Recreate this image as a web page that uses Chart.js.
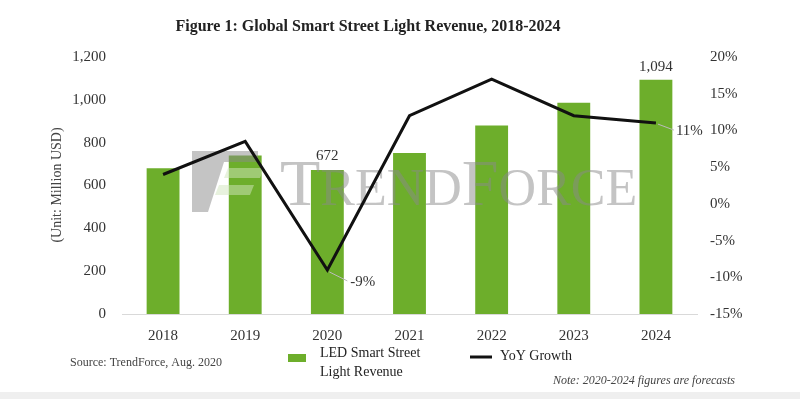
<!DOCTYPE html>
<html>
<head>
<meta charset="utf-8">
<script src="https://cdn.jsdelivr.net/npm/chart.js@4"></script>
<style>
  html, body { margin: 0; padding: 0; background: #fff; }
  #wrap { width: 800px; height: 399px; }
</style>
</head>
<body>
<div id="wrap"><canvas id="grafico" width="800" height="399"></canvas></div>
<script>
var anos = ['2018', '2019', '2020', '2021', '2022', '2023', '2024']
var receita = [680, 740, 672, 752, 880, 986, 1094]
var crescimento = [4, 8.5, -9, 12, 17, 12, 11]
var ticksReceita = [0, 200, 400, 600, 800, 1000, 1200]
var ticksCrescimento = [-15, -10, -5, 0, 5, 10, 15, 20]

var verde = '#6DAE2B'
var fonteSerif = '"Liberation Serif", "DejaVu Serif", serif'

// marca d'agua entre as barras e a linha
function marcaDagua(ctx) {
    ctx.save()
    ctx.globalAlpha = 0.5
    ctx.fillStyle = '#8a8a8a'
    ctx.beginPath()
    ctx.moveTo(192, 151); ctx.lineTo(258, 151); ctx.lineTo(258, 162)
    ctx.lineTo(224, 162); ctx.lineTo(208, 212); ctx.lineTo(192, 212)
    ctx.closePath(); ctx.fill()
    ctx.fillStyle = '#d2e6bd'
    ctx.beginPath()
    ctx.moveTo(228, 168); ctx.lineTo(264, 168); ctx.lineTo(260, 178)
    ctx.lineTo(224, 178); ctx.closePath(); ctx.fill()
    ctx.beginPath()
    ctx.moveTo(219, 185); ctx.lineTo(254, 185); ctx.lineTo(250, 195)
    ctx.lineTo(215, 195); ctx.closePath(); ctx.fill()
    ctx.fillStyle = '#8a8a8a'
    ctx.textBaseline = 'alphabetic'
    ctx.textAlign = 'left'
    var x = 280
    var partes = [['T', 66], ['REND', 52], ['F', 66], ['ORCE', 52]]
    partes.forEach(function (p) {
        ctx.font = p[1] + 'px ' + fonteSerif
        ctx.fillText(p[0], x, 205)
        x += ctx.measureText(p[0]).width
    })
    ctx.restore()
}

var extras = {
    id: 'extras',
    beforeDraw: function (chart) {
        var ctx = chart.ctx
        ctx.save()
        ctx.fillStyle = '#fff'
        ctx.fillRect(0, 0, chart.width, chart.height)
        ctx.fillStyle = '#efefef'
        ctx.fillRect(0, 392, chart.width, 7)
        ctx.restore()
    },
    afterDatasetDraw: function (chart, args) {
        if (args.index === 1) marcaDagua(chart.ctx)
    },
    afterDraw: function (chart) {
        var ctx = chart.ctx
        var pontos = chart.getDatasetMeta(0).data
        var barras = chart.getDatasetMeta(1).data
        ctx.save()
        ctx.fillStyle = '#222'
        ctx.textAlign = 'center'
        ctx.textBaseline = 'middle'
        ctx.font = 'bold 16px ' + fonteSerif
        ctx.fillText('Figure 1: Global Smart Street Light Revenue, 2018-2024', 368, 27)

        // titulo do eixo
        ctx.fillStyle = '#444'
        ctx.font = '14px ' + fonteSerif
        ctx.translate(57, 185)
        ctx.rotate(-Math.PI / 2)
        ctx.fillText('(Unit: Million USD)', 0, 0)
        ctx.setTransform(1, 0, 0, 1, 0, 0)

        // rotulos dos valores
        ctx.fillStyle = '#333'
        ctx.font = '15px ' + fonteSerif
        ctx.fillText('672', barras[2].x, barras[2].y - 14)
        ctx.fillText('1,094', barras[6].x, barras[6].y - 13)

        ctx.strokeStyle = '#bbb'
        ctx.lineWidth = 1
        ctx.beginPath()
        ctx.moveTo(pontos[2].x + 2, pontos[2].y + 2)
        ctx.lineTo(pontos[2].x + 20, pontos[2].y + 11)
        ctx.moveTo(pontos[6].x + 2, pontos[6].y + 1)
        ctx.lineTo(pontos[6].x + 18, pontos[6].y + 7)
        ctx.stroke()
        ctx.textAlign = 'left'
        ctx.fillText('-9%', pontos[2].x + 23, pontos[2].y + 12)
        ctx.fillText('11%', pontos[6].x + 20, pontos[6].y + 8)

        // legenda
        ctx.fillStyle = verde
        ctx.fillRect(288, 354, 18, 8)
        ctx.strokeStyle = '#111'
        ctx.lineWidth = 3
        ctx.beginPath()
        ctx.moveTo(470, 357); ctx.lineTo(492, 357); ctx.stroke()
        ctx.fillStyle = '#222'
        ctx.font = '14px ' + fonteSerif
        ctx.fillText('LED Smart Street', 320, 353)
        ctx.fillText('Light Revenue', 320, 372)
        ctx.fillText('YoY Growth', 500, 356)

        ctx.fillStyle = '#444'
        ctx.font = '12px ' + fonteSerif
        ctx.fillText('Source: TrendForce, Aug. 2020', 70, 363)
        ctx.textAlign = 'right'
        ctx.font = 'italic 12px ' + fonteSerif
        ctx.fillText('Note: 2020-2024 figures are forecasts', 735, 381)
        ctx.restore()
    }
}

var ctx = document.getElementById('grafico').getContext('2d')
var meuGrafico = new Chart(ctx, {
    type: 'bar',
    data: {
        labels: anos,
        datasets: [{
            type: 'line',
            label: 'YoY Growth',
            data: crescimento,
            yAxisID: 'y2',
            borderColor: '#111',
            backgroundColor: '#111',
            borderWidth: 3,
            pointRadius: 0,
            tension: 0,
            order: 0
        }, {
            label: 'LED Smart Street Light Revenue',
            data: receita,
            yAxisID: 'y',
            backgroundColor: verde,
            barPercentage: 0.4,
            categoryPercentage: 1,
            order: 1
        }]
    },
    options: {
        responsive: false,
        animation: false,
        layout: { padding: { top: 57, left: 0, right: 0, bottom: 0 } },
        plugins: {
            legend: { display: false },
            tooltip: { enabled: false }
        },
        scales: {
            x: {
                grid: { display: false },
                border: { color: '#d9d9d9' },
                ticks: { color: '#333', font: { family: fonteSerif, size: 15 }, padding: 5 },
                afterFit: function (s) { s.height = 85 }
            },
            y: {
                position: 'left',
                min: 0, max: 1200,
                afterBuildTicks: function (s) { s.ticks = ticksReceita.map(function (v) { return { value: v } }) },
                grid: { display: false },
                border: { display: false },
                ticks: {
                    color: '#333', font: { family: fonteSerif, size: 15 }, padding: 8,
                    callback: function (v) { return v.toLocaleString('en-US') }
                },
                afterFit: function (s) { s.width = 122 }
            },
            y2: {
                position: 'right',
                min: -15, max: 20,
                afterBuildTicks: function (s) { s.ticks = ticksCrescimento.map(function (v) { return { value: v } }) },
                grid: { display: false },
                border: { display: false },
                ticks: {
                    color: '#333', font: { family: fonteSerif, size: 15 }, padding: 5,
                    callback: function (v) { return v + '%' }
                },
                afterFit: function (s) { s.width = 103 }
            }
        }
    },
    plugins: [extras]
})
</script>
</body>
</html>
